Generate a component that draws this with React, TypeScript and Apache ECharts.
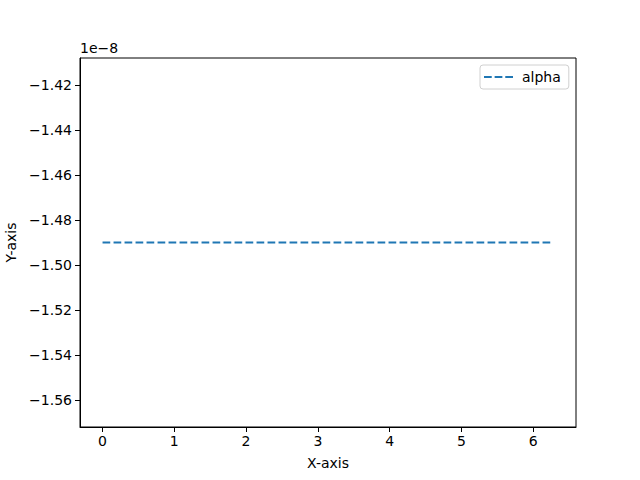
import React, { useEffect, useRef } from "react";
import * as echarts from "echarts";

// Data
const xValues = [0, 6.283185];
const alphaValues = [-1.49e-8, -1.49e-8];
const seriesName = "alpha";
const xTicks = [0, 1, 2, 3, 4, 5, 6];
const yTicks = [-1.56, -1.54, -1.52, -1.5, -1.48, -1.46, -1.44, -1.42];
const yScale = 1e-8;
const yMin = -1.57195;
const yMax = -1.40805;
const xMin = -0.314159;
const xMax = 6.597345;

const FONT = "DejaVu Sans";
const fmt = (v: number, d: number) => v.toFixed(d).replace("-", "\u2212");

export default function App() {
  const ref = useRef<HTMLDivElement>(null);
  useEffect(() => {
    document.body.style.margin = "0";
    if (!ref.current) return;
    const chart = echarts.init(ref.current, null, { renderer: "svg" });
    const data = xValues.map((x, i) => [x, alphaValues[i] / yScale]);
    chart.setOption({
      animation: false,
      backgroundColor: "#ffffff",
      textStyle: { fontFamily: FONT },
      grid: {
        left: 80,
        right: 64,
        top: 58,
        bottom: 53,
        containLabel: false,
        outerBoundsMode: "none",
        show: true,
        borderColor: "#000",
        borderWidth: 1,
        backgroundColor: "transparent",
      },
      legend: {
        data: [
          {
            name: seriesName,
            icon: "path://M0,0h8v2h-8z M11,0h8v2h-8z M22,0h8v2h-8z",
          },
        ],
        left: 480,
        top: 65,
        orient: "vertical",
        padding: [5, 8, 5, 4],
        itemWidth: 29,
        itemHeight: 2,
        itemGap: 8,
        backgroundColor: "#fff",
        borderColor: "#d0d0d0",
        borderWidth: 1,
        borderRadius: 3,
        itemStyle: { color: "#1f77b4" },
        textStyle: { fontFamily: FONT, fontSize: 14, color: "#000", padding: [0, 0, 0, 4], lineHeight: 14 },
      },
      xAxis: {
        type: "value",
        min: xMin,
        max: xMax,
        name: "X-axis",
        nameLocation: "middle",
        nameGap: 29,
        nameTextStyle: { fontFamily: FONT, fontSize: 14, color: "#000" },
        axisLine: { show: true, onZero: false, lineStyle: { color: "#000", width: 1 } },
        axisTick: { show: true, inside: false, length: 5, customValues: xTicks, lineStyle: { color: "#000", width: 1 } },
        axisLabel: {
          customValues: xTicks,
          margin: 7,
          fontFamily: FONT,
          fontSize: 14,
          color: "#000",
          formatter: (v: number) => fmt(v, 0),
        },
        splitLine: { show: false },
      },
      yAxis: {
        type: "value",
        min: yMin,
        max: yMax,
        name: "Y-axis",
        nameLocation: "middle",
        nameGap: 61,
        nameTextStyle: { fontFamily: FONT, fontSize: 14, color: "#000" },
        axisLine: { show: true, onZero: false, lineStyle: { color: "#000", width: 1 } },
        axisTick: { show: true, inside: false, length: 5, customValues: yTicks, lineStyle: { color: "#000", width: 1 } },
        axisLabel: {
          customValues: yTicks,
          margin: 8,
          fontFamily: FONT,
          fontSize: 14,
          color: "#000",
          formatter: (v: number) => fmt(v, 2),
        },
        splitLine: { show: false },
      },
      graphic: [
        {
          type: "text",
          left: 80,
          top: 41,
          style: { text: "1e\u22128", fontFamily: FONT, fontSize: 14, fill: "#000" },
        },
      ],
      series: [
        {
          name: seriesName,
          type: "line",
          data,
          showSymbol: false,
          symbol: "none",
          itemStyle: { color: "#1f77b4" },
          lineStyle: { color: "#1f77b4", width: 2, type: [7.7, 3.3] },
        },
      ],
    });
    return () => chart.dispose();
  }, []);
  return <div ref={ref} style={{ width: 640, height: 480 }} />;
}
